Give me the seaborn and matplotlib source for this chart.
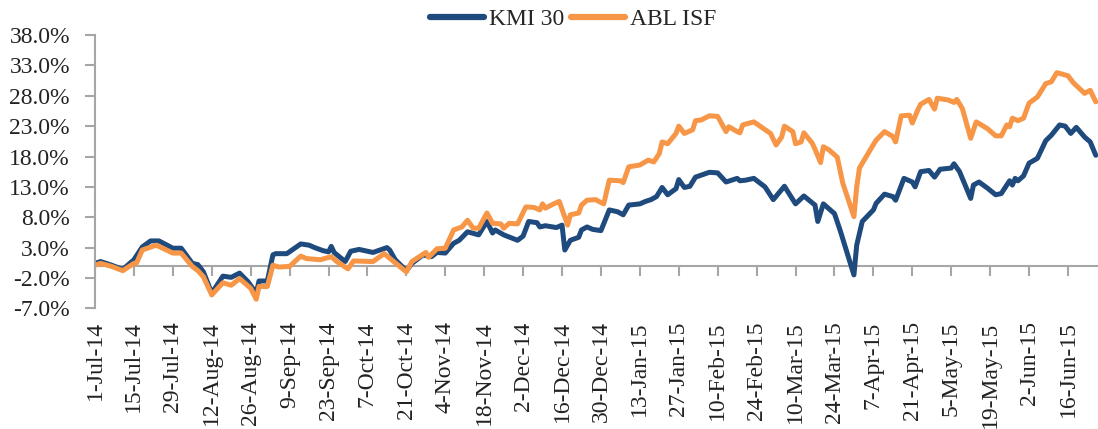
import pandas as pd
import numpy as np
import matplotlib
matplotlib.use("Agg")
import matplotlib.pyplot as plt
import matplotlib.dates as mdates
from matplotlib.ticker import PercentFormatter, FixedLocator, FixedFormatter
import seaborn as sns

# data: day offsets from 1-Jul-14 and cumulative return (%)
start_date = "2014-07-01"

kmi_days = [0, 2, 6, 10, 14, 17, 20, 23, 28, 31, 35, 37, 39, 42, 46, 49, 52, 55, 58, 59,
            62, 64, 65, 69, 74, 77, 79, 82, 84, 85, 86, 90, 92, 95, 100, 105, 106, 108, 112, 114,
            118, 121, 123, 126, 129, 131, 134, 138, 141, 143, 144, 147, 152, 154, 156, 159, 160, 162, 166, 168,
            169, 171, 174, 175, 177, 179, 182, 185, 188, 190, 192, 196, 198, 200, 202, 204, 206, 209, 210, 212,
            214, 216, 221, 224, 227, 231, 232, 234, 237, 241, 244, 248, 252, 255, 259, 260, 262, 266, 268, 273,
            274, 276, 280, 281, 284, 287, 288, 291, 294, 295, 297, 300, 302, 304, 308, 309, 311, 315, 316, 318,
            321, 324, 326, 329, 330, 331, 332, 334, 336, 339, 342, 344, 347, 349, 351, 353, 356, 358, 360]
kmi_values = [0.4, 0.7, 0.1, -0.6, 1.0, 3.1, 4.1, 4.1, 2.9, 2.9, 0.4, 0.2, -1.0, -4.5, -1.7, -1.9, -1.2, -2.6, -4.5, -2.5,
              -2.5, 1.8, 2.0, 2.0, 3.6, 3.4, 3.0, 2.5, 2.3, 3.2, 2.2, 0.7, 2.4, 2.7, 2.2, 3.0, 2.6, 1.0, -0.8, 0.4,
              1.8, 1.5, 2.2, 2.1, 3.7, 4.2, 5.6, 5.1, 7.3, 5.4, 5.9, 5.1, 4.2, 4.9, 7.3, 7.1, 6.4, 6.6, 6.3, 6.7,
              2.6, 4.2, 4.7, 5.9, 6.4, 6.0, 5.8, 9.2, 8.9, 8.4, 10.0, 10.2, 10.6, 10.9, 11.4, 12.9, 11.7, 12.7, 14.2, 12.9,
              13.1, 14.6, 15.4, 15.3, 13.8, 14.4, 14.0, 14.1, 14.4, 13.0, 10.9, 13.1, 10.2, 11.5, 10.0, 7.3, 10.2, 8.6, 5.9, -1.5,
              3.4, 7.3, 9.2, 10.3, 11.8, 11.4, 10.8, 14.4, 13.8, 13.0, 15.5, 15.7, 14.6, 15.9, 16.1, 16.8, 15.5, 11.1, 13.3, 13.8,
              12.8, 11.7, 11.9, 14.0, 13.3, 14.4, 14.0, 14.8, 16.9, 17.7, 20.6, 21.5, 23.2, 23.0, 21.8, 22.8, 21.2, 20.4, 18.2]

abl_days = [0, 2, 6, 10, 14, 15, 17, 22, 28, 31, 35, 37, 39, 42, 46, 49, 52, 56, 58, 59,
            62, 64, 66, 70, 74, 76, 81, 85, 87, 91, 93, 100, 104, 112, 114, 119, 120, 123, 126, 129,
            132, 134, 136, 138, 141, 143, 146, 147, 149, 152, 155, 158, 160, 161, 162, 165, 167, 170, 171, 174,
            175, 177, 180, 183, 185, 189, 190, 192, 196, 199, 201, 203, 204, 206, 209, 210, 212, 215, 216, 218,
            221, 224, 227, 228, 231, 232, 233, 237, 242, 243, 245, 247, 248, 251, 252, 254, 255, 258, 259, 261,
            262, 264, 267, 269, 273, 274, 275, 279, 281, 284, 287, 288, 290, 293, 294, 296, 297, 300, 302, 303,
            307, 309, 310, 312, 315, 317, 321, 324, 326, 328, 329, 330, 332, 334, 336, 339, 342, 344, 346, 350,
            352, 356, 358, 360]
abl_values = [0.1, 0.4, -0.1, -0.8, 0.4, 0.5, 2.6, 3.4, 2.1, 2.1, -0.1, -0.8, -1.8, -4.8, -2.8, -3.2, -2.1, -3.7, -5.5, -3.4,
              -3.4, 0.1, -0.2, -0.1, 1.6, 1.2, 1.0, 1.5, 0.7, -0.5, 0.8, 0.7, 2.0, -1.0, 0.7, 2.2, 1.4, 2.8, 2.9, 5.9,
              6.4, 7.5, 6.2, 6.2, 8.7, 7.0, 6.9, 6.2, 7.0, 6.9, 9.7, 9.6, 9.2, 10.2, 9.5, 10.2, 10.6, 6.7, 8.4, 8.7,
              10.0, 10.8, 10.9, 10.2, 14.1, 14.0, 13.7, 16.3, 16.6, 17.4, 17.1, 18.5, 20.4, 20.1, 21.8, 23.0, 21.8, 22.4, 23.9, 24.0,
              24.7, 24.6, 22.1, 22.9, 22.1, 21.9, 23.2, 23.7, 22.1, 21.8, 19.9, 21.2, 23.0, 22.1, 20.1, 20.4, 21.9, 20.2, 19.2, 17.0,
              19.6, 19.1, 17.9, 13.6, 8.1, 13.0, 16.1, 19.2, 20.7, 22.1, 21.3, 20.4, 24.7, 24.8, 23.5, 25.7, 26.6, 27.4, 25.8, 27.6,
              27.3, 26.9, 27.4, 25.9, 21.0, 23.7, 22.6, 21.4, 21.4, 23.2, 22.9, 24.3, 23.9, 24.3, 26.8, 27.8, 30.0, 30.3, 31.8, 31.3,
              30.1, 28.4, 28.9, 27.0]

series_names = ["KMI 30", "ABL ISF"]
series_colors = ["#1F4A7D", "#F79646"]

y_ticks = [-7, -2, 3, 8, 13, 18, 23, 28, 33, 38]
tick_dates = pd.date_range(start_date, periods=26, freq="14D")
tick_labels = [f"{d.day}-{d.strftime('%b-%y')}" for d in tick_dates]

# long table for seaborn
start = pd.Timestamp(start_date)
df = pd.concat([
    pd.DataFrame({"date": start + pd.to_timedelta(kmi_days, unit="D"),
                  "value": kmi_values, "series": series_names[0]}),
    pd.DataFrame({"date": start + pd.to_timedelta(abl_days, unit="D"),
                  "value": abl_values, "series": series_names[1]}),
])

sns.set_style("white")
plt.rcParams["font.family"] = ["Liberation Serif", "DejaVu Serif"]
plt.rcParams["axes.unicode_minus"] = False

fig = plt.figure(figsize=(10.98, 4.29), dpi=100)
ax = fig.add_axes([95 / 1098, 0.2813, 1003 / 1098, 0.637])

sns.lineplot(data=df, x="date", y="value", hue="series", palette=series_colors,
             hue_order=series_names, estimator=None, sort=True, linewidth=3.6,
             solid_capstyle="round", solid_joinstyle="round", ax=ax, legend=False)

ax.set_ylim(-7, 38)
ax.set_yticks(y_ticks)
ax.yaxis.set_major_formatter(PercentFormatter(decimals=1))
ax.set_xlim(mdates.date2num(start), mdates.date2num(start) + 360.8)
ax.xaxis.set_major_locator(FixedLocator(mdates.date2num(tick_dates)))
ax.xaxis.set_major_formatter(FixedFormatter(tick_labels))
ax.set_xlabel("")
ax.set_ylabel("")

# axis styling: gray left spine, category axis crossing at zero
for side in ["top", "right"]:
    ax.spines[side].set_visible(False)
ax.spines["left"].set_color("#A6A6A6")
ax.spines["left"].set_linewidth(1.5)
ax.spines["bottom"].set_position(("data", 0))
ax.spines["bottom"].set_color("#A6A6A6")
ax.spines["bottom"].set_linewidth(1.5)
ax.spines["bottom"].set_zorder(1)
ax.tick_params(axis="y", direction="out", length=7, width=1.5, color="#A6A6A6",
               labelsize=17, pad=11, labelcolor="#222222", left=True)
ax.tick_params(axis="x", direction="out", length=7, width=1.5, color="#A6A6A6",
               labelsize=17, pad=33, labelcolor="#222222", bottom=True, labelrotation=90)
for lbl in ax.get_xticklabels():
    lbl.set_ha("center")
    lbl.set_va("top")
ax.grid(False)

handles = [plt.Line2D([], [], color=c, lw=4.5, solid_capstyle="round") for c in series_colors]
fig.legend(handles, series_names, loc="upper center", bbox_to_anchor=(0.522, 1.03), ncol=2,
           frameon=False, fontsize=17, handlelength=2.3, handletextpad=0.2, columnspacing=0.3)

plt.savefig("out.png", dpi=100)
plt.close()
